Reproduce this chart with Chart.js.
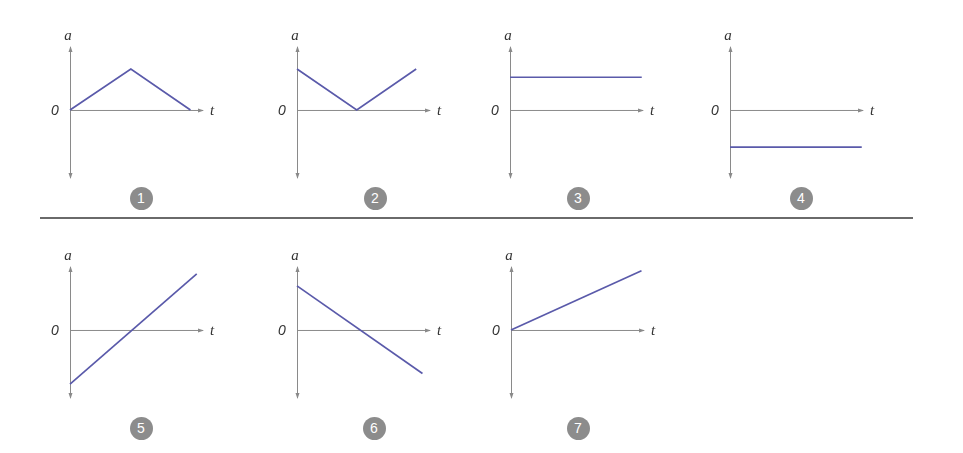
<!DOCTYPE html>
<html lang="en">
<head>
<meta charset="UTF-8">
<title>a-t graphs</title>
<script src="https://cdn.jsdelivr.net/npm/chart.js@4/dist/chart.umd.min.js"></script>
<style>
  html, body { margin: 0; padding: 0; background: #fff; }
  #wrap { position: relative; width: 963px; height: 453px; }
  .panel { position: absolute; }
  .badge {
    position: absolute; width: 23px; height: 23px; border-radius: 50%;
    background: #8c8c8c; color: #fff; font: 14px "Liberation Sans", Arial, sans-serif;
    text-align: center; line-height: 23px;
  }
  .sep { position: absolute; left: 40px; top: 217px; width: 873px; height: 2px; background: #6a6a6a; }
</style>
</head>
<body>
<div id="wrap"><div class="sep"></div></div>
<script>
// axis ranges shared by all seven graphs
const tMin = 0, tMax = 10.6;
const aMin = -5.4, aMax = 5;

// graph numbers
const graphNames = ['1', '2', '3', '4', '5', '6', '7'];

// t values and a values of each graph
const g1t = [0, 4.85, 9.6];   const g1a = [0, 3.25, 0];
const g2t = [0, 4.76, 9.5];   const g2a = [3.25, 0, 3.25];
const g3t = [0, 10.5];        const g3a = [2.6, 2.6];
const g4t = [0, 10.5];        const g4a = [-2.95, -2.95];
const g5t = [0, 10.1];        const g5a = [-4.3, 4.45];
const g6t = [0, 10.0];        const g6a = [3.5, -3.45];
const g7t = [0, 10.4];        const g7a = [0, 4.7];

const graphT = [g1t, g2t, g3t, g4t, g5t, g6t, g7t];
const graphA = [g1a, g2a, g3a, g4a, g5a, g6a, g7a];

// where each graph sits on the page: y axis x and top of y axis
const axisX = [70, 297, 510, 730, 70, 297, 511];
const axisTop = [47, 47, 47, 47, 267, 267, 267];
const badgeX = [141, 375, 578, 801, 141, 374, 578];
const badgeY = [198, 198, 198, 198, 428, 428, 428];

const axisColor = '#8a8a8a';
const lineColor = '#5a5aaa';

const axesPlugin = {
  id: 'axesPlugin',
  beforeDatasetsDraw(chart) {
    const ctx = chart.ctx;
    const x = chart.scales.x, y = chart.scales.y;
    const x0 = x.getPixelForValue(0), y0 = y.getPixelForValue(0);
    const top = y.getPixelForValue(aMax), bottom = y.getPixelForValue(aMin);
    const right = x.getPixelForValue(tMax);
    ctx.save();
    ctx.strokeStyle = axisColor;
    ctx.fillStyle = axisColor;
    ctx.lineWidth = 1;
    ctx.beginPath();
    ctx.moveTo(x0 + 0.5, top); ctx.lineTo(x0 + 0.5, bottom);
    ctx.moveTo(x0, y0 + 0.5); ctx.lineTo(right, y0 + 0.5);
    ctx.stroke();
    // arrow heads
    ctx.beginPath();
    ctx.moveTo(x0 + 0.5, top - 1); ctx.lineTo(x0 - 1.5, top + 5); ctx.lineTo(x0 + 2.5, top + 5); ctx.closePath();
    ctx.moveTo(x0 + 0.5, bottom + 1); ctx.lineTo(x0 - 1.5, bottom - 5); ctx.lineTo(x0 + 2.5, bottom - 5); ctx.closePath();
    ctx.moveTo(right + 1, y0 + 0.5); ctx.lineTo(right - 5, y0 - 1.5); ctx.lineTo(right - 5, y0 + 2.5); ctx.closePath();
    ctx.fill();
    // labels
    ctx.fillStyle = '#333';
    ctx.font = 'italic 15px "Liberation Serif", serif';
    ctx.textAlign = 'center';
    ctx.textBaseline = 'middle';
    ctx.fillText('a', x0 - 2, top - 11);
    ctx.fillText('t', right + 9, y0 + 1);
    ctx.font = 'italic 14px "Liberation Sans", Arial, sans-serif';
    ctx.fillText('0', x0 - 15, y0 + 1);
    ctx.restore();
  }
};

const wrap = document.getElementById('wrap');
const padL = 30, padT = 22, padR = 22, padB = 7;
const areaW = 133, areaH = 131;

graphNames.forEach((name, i) => {
  const c = document.createElement('canvas');
  c.className = 'panel';
  const w = padL + areaW + padR, h = padT + areaH + padB;
  c.width = w; c.height = h;
  c.style.width = w + 'px'; c.style.height = h + 'px';
  c.style.left = (axisX[i] - padL) + 'px';
  c.style.top = (axisTop[i] - padT) + 'px';
  wrap.appendChild(c);

  new Chart(c.getContext('2d'), {
    type: 'scatter',
    data: {
      datasets: [{
        data: graphT[i].map((t, k) => ({ x: t, y: graphA[i][k] })),
        showLine: true,
        borderColor: lineColor,
        borderWidth: 1.7,
        pointRadius: 0,
        tension: 0,
        clip: false
      }]
    },
    options: {
      responsive: false,
      animation: false,
      layout: { padding: { left: padL, top: padT, right: padR, bottom: padB } },
      scales: {
        x: { type: 'linear', min: tMin, max: tMax, display: false },
        y: { type: 'linear', min: aMin, max: aMax, display: false }
      },
      plugins: { legend: { display: false }, tooltip: { enabled: false } }
    },
    plugins: [axesPlugin]
  });

  const b = document.createElement('div');
  b.className = 'badge';
  b.textContent = name;
  b.style.left = (badgeX[i] - 11.5) + 'px';
  b.style.top = (badgeY[i] - 11.5) + 'px';
  wrap.appendChild(b);
});
</script>
</body>
</html>
